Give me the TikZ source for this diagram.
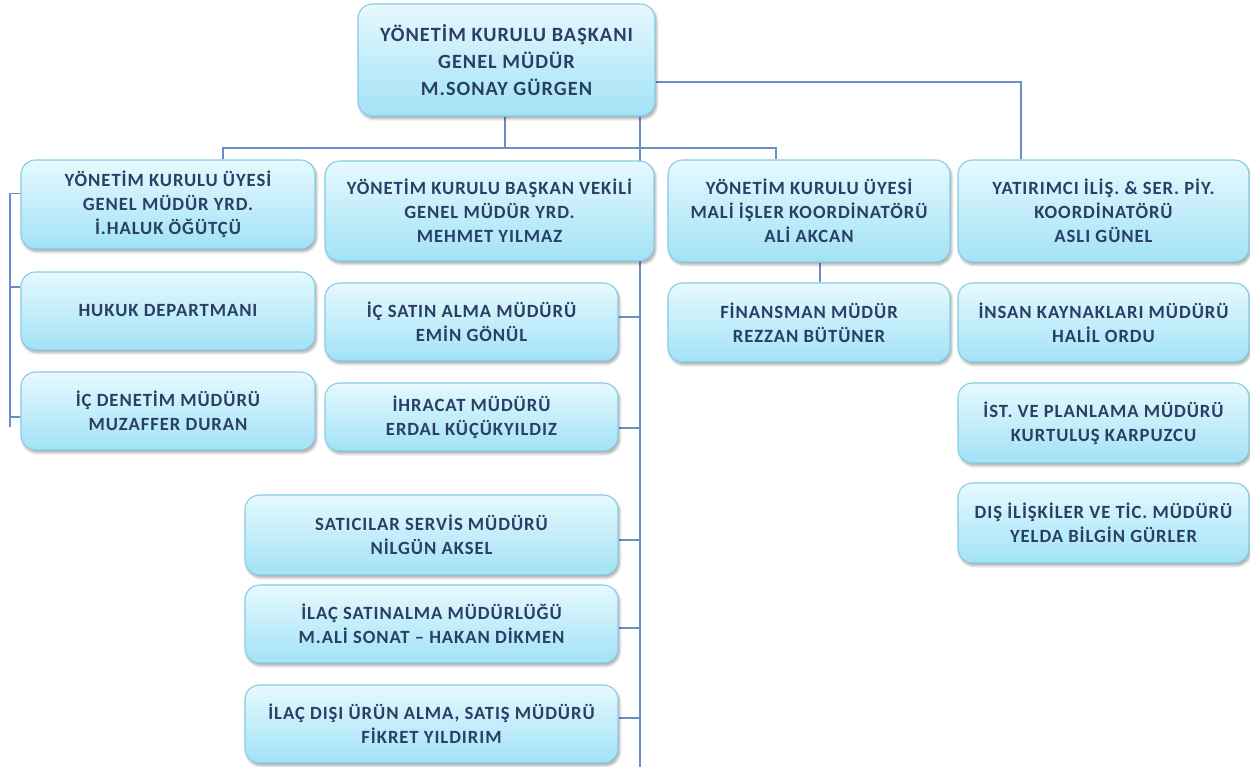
\documentclass[tikz,border=0pt]{standalone}
\usepackage{fontspec}
\setmainfont{Carlito}[LetterSpace=5]
\usetikzlibrary{shadows.blur,backgrounds,calc}
\definecolor{boxtop}{HTML}{E6F9FE}
\definecolor{boxbot}{HTML}{A2E2F6}
\definecolor{boxline}{HTML}{84CBE4}
\definecolor{txt}{HTML}{2A3F66}
\definecolor{conn}{HTML}{6A8CC8}
\tikzset{
  box/.style={draw=boxline, line width=0.8pt, rounded corners=11pt,
    top color=boxtop, bottom color=boxbot, inner sep=0pt, align=center,
    text=txt, font=\bfseries\fontsize{14}{18}\selectfont,
    blur shadow={shadow xshift=1.2pt, shadow yshift=-2pt, shadow blur steps=6, shadow opacity=35}},
  topbox/.style={box, font=\bfseries\fontsize{15.2}{20.2}\selectfont},
  link/.style={draw=conn, line width=1.1pt},
}
\newcommand\obox[7][box]{%
  \node[#1, minimum width={(#4-#2)*0.75pt}, minimum height={(#5-#3)*0.75pt}]
    (#7) at ({(#2+#4)/2},{(#3+#5)/2}) {#6};}
\begin{document}
\begin{tikzpicture}[x=0.75pt,y=-0.75pt]
\useasboundingbox (0,0) rectangle (1250,767);
\obox[topbox]{358}{4}{655}{116}{YÖNETİM KURULU BAŞKANI\\GENEL MÜDÜR\\M.SONAY GÜRGEN}{top}
\obox{21}{160}{315}{249}{YÖNETİM KURULU ÜYESİ\\GENEL MÜDÜR YRD.\\İ.HALUK ÖĞÜTÇÜ}{b1}
\obox{325}{161}{654}{261}{YÖNETİM KURULU BAŞKAN VEKİLİ\\GENEL MÜDÜR YRD.\\MEHMET YILMAZ}{b2}
\obox{668}{160}{950}{262}{YÖNETİM KURULU ÜYESİ\\MALİ İŞLER KOORDİNATÖRÜ\\ALİ AKCAN}{b3}
\obox{958}{160}{1249}{262}{YATIRIMCI İLİŞ. \& SER. PİY.\\KOORDİNATÖRÜ\\ASLI GÜNEL}{b4}
\obox{21}{272}{315}{350}{HUKUK DEPARTMANI}{b5}
\obox{21}{372}{315}{450}{İÇ DENETİM MÜDÜRÜ\\MUZAFFER DURAN}{b6}
\obox{325}{283}{618}{361}{İÇ SATIN ALMA MÜDÜRÜ\\EMİN GÖNÜL}{b7}
\obox{325}{383}{618}{451}{İHRACAT MÜDÜRÜ\\ERDAL KÜÇÜKYILDIZ}{b8}
\obox{245}{495}{618}{575}{SATICILAR SERVİS MÜDÜRÜ\\NİLGÜN AKSEL}{b9}
\obox{245}{585}{618}{663}{İLAÇ SATINALMA MÜDÜRLÜĞÜ\\M.ALİ SONAT – HAKAN DİKMEN}{b10}
\obox{245}{685}{618}{763}{İLAÇ DIŞI ÜRÜN ALMA, SATIŞ MÜDÜRÜ\\FİKRET YILDIRIM}{b11}
\obox{668}{283}{950}{362}{FİNANSMAN MÜDÜR\\REZZAN BÜTÜNER}{b12}
\obox{958}{283}{1249}{362}{İNSAN KAYNAKLARI MÜDÜRÜ\\HALİL ORDU}{b13}
\obox{958}{383}{1249}{463}{İST. VE PLANLAMA MÜDÜRÜ\\KURTULUŞ KARPUZCU}{b14}
\obox{958}{483}{1249}{563}{DIŞ İLİŞKİLER VE TİC. MÜDÜRÜ\\YELDA BİLGİN GÜRLER}{b15}
\coordinate (tx) at (640,0);
\coordinate (bus) at (0,148);
\coordinate (lx) at (10,0);
\coordinate (rx) at (1021,82);
\coordinate (trunkEnd) at (640,767);
\coordinate (p7) at ($(b7.east)+(0,-5)$);
\coordinate (p8) at ($(b8.east)+(0,11)$);
\coordinate (p9) at ($(b9.east)+(0,5)$);
\coordinate (p10) at ($(b10.east)+(0,4)$);
\coordinate (p11) at ($(b11.east)+(0,-6)$);
\coordinate (q1) at ($(b1.west)+(0,-11)$);
\coordinate (q5) at ($(b5.west)+(0,-24)$);
\coordinate (q6) at ($(b6.west)+(0,6)$);
\coordinate (q6end) at ($(b6.west)+(0,16)$);
\begin{pgfonlayer}{background}
  % top to first-level bus
  \draw[link] (top.south -| 505,0) -- (bus -| 505,0);
  \draw[link] (b1.north -| 223,0) -- (bus -| 223,0) -- (bus -| 776,0) -- (b3.north -| 776,0);
  % right branch
  \draw[link] (top.east |- rx) -- (rx) -- (b4.north -| rx);
  % trunk
  \draw[link] (top.south -| tx) -- (trunkEnd);
  \draw[link] (p7) -- (p7 -| tx);
  \draw[link] (p8) -- (p8 -| tx);
  \draw[link] (p9) -- (p9 -| tx);
  \draw[link] (p10) -- (p10 -| tx);
  \draw[link] (p11) -- (p11 -| tx);
  % finance
  \draw[link] (b3.south -| 820,0) -- (b12.north -| 820,0);
  % left bracket
  \draw[link] (q1) -- (q1 -| lx) -- (q6end -| lx);
  \draw[link] (q5) -- (q5 -| lx);
  \draw[link] (q6) -- (q6 -| lx);
\end{pgfonlayer}
\end{tikzpicture}
\end{document}
